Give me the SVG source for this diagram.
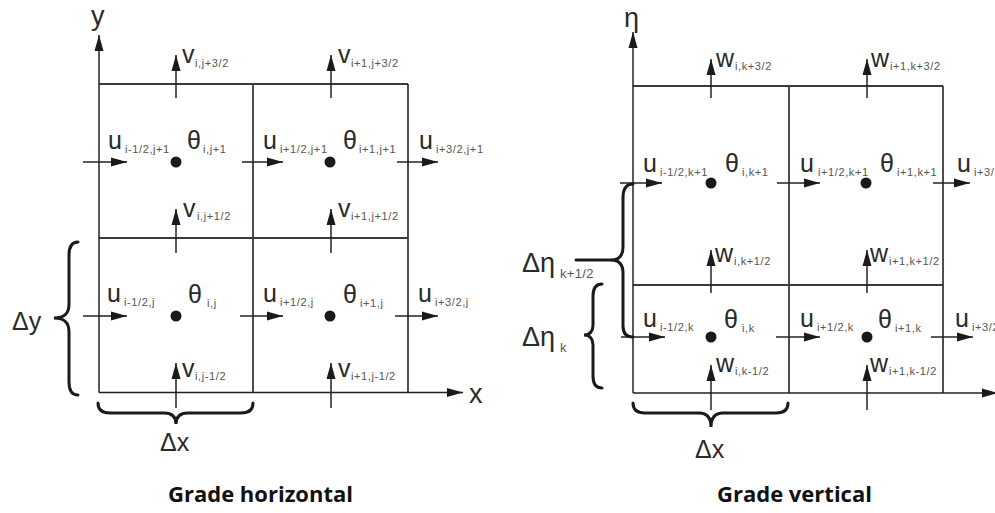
<svg xmlns="http://www.w3.org/2000/svg" width="995" height="513" viewBox="0 0 995 513">
<defs>
<marker id="ah" markerUnits="userSpaceOnUse" markerWidth="17" markerHeight="10" refX="16" refY="5" orient="auto">
<path d="M0,0.5 L16,5 L0,9.5 z" fill="#1a1a1a"/>
</marker>
<style>
.bg{fill:#ffffff}
.grid{stroke:#3a3a3a;stroke-width:1.8;fill:none}
.arr{stroke:#222;stroke-width:1.5;fill:none;marker-end:url(#ah)}
.brace{stroke:#1a1a1a;stroke-width:3;fill:none;stroke-linecap:round}
.dot{fill:#1a1a1a}
.m{font-family:"Liberation Sans",Arial,sans-serif;font-size:25px;fill:#2a2a2a}
.s{font-size:11px;fill:#555;letter-spacing:0.6px}
.ax{font-family:"Liberation Sans",Arial,sans-serif;font-size:27px;fill:#2a2a2a}
.t{font-family:"Open Sans",sans-serif;font-weight:bold;font-size:22px;fill:#111}
</style>
</defs>
<rect class="bg" x="0" y="0" width="995" height="513"/>

<g id="left-grid">
<line class="grid" x1="99" y1="84" x2="408" y2="84"/>
<line class="grid" x1="99" y1="238" x2="408" y2="238"/>
<line class="grid" x1="253" y1="84" x2="253" y2="392.5"/>
<line class="grid" x1="408" y1="84" x2="408" y2="392.5"/>
</g>
<g id="right-grid">
<line class="grid" x1="633" y1="86" x2="943" y2="86"/>
<line class="grid" x1="633" y1="285" x2="943" y2="285"/>
<line class="grid" x1="789" y1="86" x2="789" y2="393"/>
<line class="grid" x1="943" y1="86" x2="943" y2="393"/>
</g>

<g id="connectors">
<line class="arr" x1="99" y1="392.5" x2="99" y2="35"/>
<line class="arr" x1="99" y1="392.5" x2="463" y2="392.5"/>
<line class="arr" x1="633" y1="393" x2="633" y2="32"/>
<line class="arr" x1="633" y1="393" x2="998" y2="393"/>
<line class="arr" x1="83" y1="162" x2="127" y2="162"/>
<line class="arr" x1="242" y1="162" x2="283" y2="162"/>
<line class="arr" x1="397" y1="162" x2="438" y2="162"/>
<line class="arr" x1="83" y1="316" x2="127" y2="316"/>
<line class="arr" x1="240" y1="316" x2="283" y2="316"/>
<line class="arr" x1="395" y1="316" x2="438" y2="316"/>
<line class="arr" x1="176" y1="98" x2="176" y2="55"/>
<line class="arr" x1="331" y1="98" x2="331" y2="55"/>
<line class="arr" x1="176" y1="253" x2="176" y2="209"/>
<line class="arr" x1="331" y1="253" x2="331" y2="209"/>
<line class="arr" x1="176" y1="408" x2="176" y2="363"/>
<line class="arr" x1="331" y1="408" x2="331" y2="363"/>
<line class="arr" x1="620" y1="183" x2="662" y2="183"/>
<line class="arr" x1="777" y1="183" x2="820" y2="183"/>
<line class="arr" x1="933" y1="183" x2="970" y2="183"/>
<line class="arr" x1="621" y1="337" x2="665" y2="337"/>
<line class="arr" x1="776" y1="337" x2="820" y2="337"/>
<line class="arr" x1="931" y1="337" x2="973" y2="337"/>
<line class="arr" x1="711" y1="98" x2="711" y2="59"/>
<line class="arr" x1="867" y1="98" x2="867" y2="59"/>
<line class="arr" x1="711" y1="293" x2="711" y2="250"/>
<line class="arr" x1="867" y1="293" x2="867" y2="250"/>
<line class="arr" x1="711" y1="410" x2="711" y2="365"/>
<line class="arr" x1="867" y1="410" x2="867" y2="365"/>
</g>

<g id="dots">
<circle class="dot" cx="176" cy="162" r="5.5"/>
<circle class="dot" cx="330" cy="162" r="5.5"/>
<circle class="dot" cx="176" cy="316" r="5.5"/>
<circle class="dot" cx="330" cy="316" r="5.5"/>
<circle class="dot" cx="711" cy="183" r="5.5"/>
<circle class="dot" cx="866" cy="183" r="5.5"/>
<circle class="dot" cx="711" cy="337" r="5.5"/>
<circle class="dot" cx="867" cy="337" r="5.5"/>
</g>

<g id="braces">
<path class="brace" d="M78,242 C71,242 69,247 69,255 L69,304 C69,313 65,318 54,318 C65,318 69,323 69,332 L69,382 C69,390 71,395 78,395"/>
<path class="brace" d="M98,403 C98,410 102,413 110,413 L164,413 C172,413 176,417 176,424 C176,417 180,413 188,413 L241,413 C249,413 253,410 253,403"/>
<path class="brace" d="M633,403 C633,410 637,413 645,413 L699,413 C707,413 711,418 711,427 C711,418 715,413 723,413 L776,413 C784,413 788,410 788,403"/>
<path class="brace" d="M633,184 C626,184 623,189 623,198 L623,247 C623,255 620,260 611,260 C620,260 623,265 623,273 L623,326 C623,333 626,337 633,337"/>
<line class="brace" x1="576" y1="260" x2="611" y2="260"/>
<path class="brace" d="M602,284 C596,284 593,288 593,296 L593,325 C593,331 590,335 584,335 C590,335 593,339 593,345 L593,376 C593,384 596,388 602,388"/>
</g>

<g id="axis-labels">
<text class="ax" x="91" y="25">y</text>
<text class="ax" x="469" y="403">x</text>
<text class="ax" x="624" y="27">η</text>
<text class="m" x="12" y="330">Δy</text>
<text class="m" x="160" y="451">Δx</text>
<text class="m" x="695" y="458">Δx</text>
<text class="m" x="522" y="272" style="font-size:27px">Δη<tspan class="s" style="font-size:13px;letter-spacing:0.3px" x="560" y="278">k+1/2</tspan></text>
<text class="m" x="522" y="346" style="font-size:27px">Δη<tspan class="s" style="font-size:13px" x="560" y="352">k</tspan></text>
</g>

<g id="left-labels">
<text class="m" x="182" y="63">v<tspan class="s" x="195" y="67">i,j+3/2</tspan></text>
<text class="m" x="338" y="63">v<tspan class="s" x="351" y="67">i+1,j+3/2</tspan></text>
<text class="m" x="108" y="149">u<tspan class="s" x="125" y="153">i-1/2,j+1</tspan></text>
<text class="m" x="187" y="149">θ<tspan class="s" x="203" y="153">i,j+1</tspan></text>
<text class="m" x="263" y="149">u<tspan class="s" x="280" y="153">i+1/2,j+1</tspan></text>
<text class="m" x="343" y="149">θ<tspan class="s" x="359" y="153">i+1,j+1</tspan></text>
<text class="m" x="419" y="149">u<tspan class="s" x="436" y="153">i+3/2,j+1</tspan></text>
<text class="m" x="183" y="217">v<tspan class="s" x="197" y="220">i,j+1/2</tspan></text>
<text class="m" x="338" y="217">v<tspan class="s" x="351" y="220">i+1,j+1/2</tspan></text>
<text class="m" x="107" y="302">u<tspan class="s" x="124" y="306">i-1/2,j</tspan></text>
<text class="m" x="188" y="303">θ<tspan class="s" x="207" y="307">i,j</tspan></text>
<text class="m" x="263" y="302">u<tspan class="s" x="280" y="306">i+1/2,j</tspan></text>
<text class="m" x="343" y="303">θ<tspan class="s" x="360" y="307">i+1,j</tspan></text>
<text class="m" x="418" y="302">u<tspan class="s" x="435" y="306">i+3/2,j</tspan></text>
<text class="m" x="182" y="377">v<tspan class="s" x="195" y="380">i,j-1/2</tspan></text>
<text class="m" x="338" y="377">v<tspan class="s" x="351" y="380">i+1,j-1/2</tspan></text>
</g>

<g id="right-labels">
<text class="m" x="716" y="67">w<tspan class="s" x="735" y="70">i,k+3/2</tspan></text>
<text class="m" x="871" y="67">w<tspan class="s" x="890" y="70">i+1,k+3/2</tspan></text>
<text class="m" x="643" y="172">u<tspan class="s" x="660" y="176">i-1/2,k+1</tspan></text>
<text class="m" x="725" y="172">θ<tspan class="s" x="742" y="176">i,k+1</tspan></text>
<text class="m" x="800" y="172">u<tspan class="s" x="818" y="176">i+1/2,k+1</tspan></text>
<text class="m" x="880" y="172">θ<tspan class="s" x="897" y="176">i+1,k+1</tspan></text>
<text class="m" x="957" y="172">u<tspan class="s" x="974" y="176">i+3/2,k+1</tspan></text>
<text class="m" x="715" y="262">w<tspan class="s" x="734" y="265">i,k+1/2</tspan></text>
<text class="m" x="870" y="262">w<tspan class="s" x="889" y="265">i+1,k+1/2</tspan></text>
<text class="m" x="643" y="327">u<tspan class="s" x="660" y="331">i-1/2,k</tspan></text>
<text class="m" x="724" y="328">θ<tspan class="s" x="742" y="332">i,k</tspan></text>
<text class="m" x="800" y="327">u<tspan class="s" x="817" y="331">i+1/2,k</tspan></text>
<text class="m" x="878" y="328">θ<tspan class="s" x="895" y="332">i+1,k</tspan></text>
<text class="m" x="955" y="327">u<tspan class="s" x="972" y="331">i+3/2,k</tspan></text>
<text class="m" x="716" y="372">w<tspan class="s" x="735" y="375">i,k-1/2</tspan></text>
<text class="m" x="870" y="372">w<tspan class="s" x="889" y="375">i+1,k-1/2</tspan></text>
</g>

<g id="titles">
<text class="t" x="168" y="502">Grade horizontal</text>
<text class="t" x="717" y="502">Grade vertical</text>
</g>
</svg>
